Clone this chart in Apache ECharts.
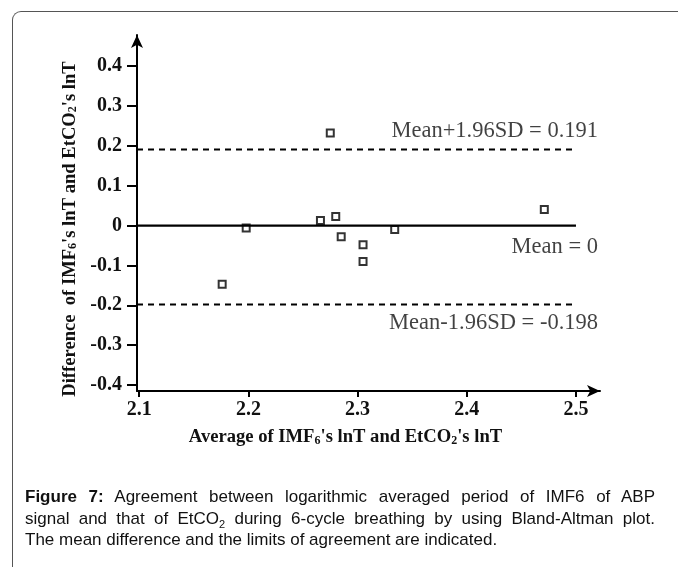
<!DOCTYPE html>
<html>
<head>
<meta charset="utf-8">
<script src="https://cdn.jsdelivr.net/npm/echarts@6/dist/echarts.min.js"></script>
<style>
  html, body { margin: 0; padding: 0; background: #fff; }
  #wrap { position: relative; width: 678px; height: 567px; overflow: hidden; }
  #frame { position: absolute; left: 12px; top: 11px; width: 720px; height: 620px;
           border-left: 1.5px solid #555; border-top: 1.5px solid #555; border-top-left-radius: 9px; }
  #chart { position: absolute; left: 0; top: 0; width: 678px; height: 567px; }
  #caption { position: absolute; left: 25px; top: 486px; width: 630px;
             font-family: "Liberation Sans", Arial, sans-serif; font-size: 17px; line-height: 21.5px; color: #111; }
  #caption .j { text-align: justify; text-align-last: justify; }
  #caption sub { font-size: 11px; line-height: 0; }
</style>
</head>
<body>
<div id="wrap">
  <div id="frame"></div>
  <div id="chart"></div>
  <div id="caption">
    <div class="j"><b>Figure 7:</b> Agreement between logarithmic averaged period of IMF6 of ABP</div>
    <div class="j">signal and that of EtCO<sub>2</sub> during 6-cycle breathing by using Bland-Altman plot.</div>
    <div>The mean difference and the limits of agreement are indicated.</div>
  </div>
</div>
<script>
// ---- data ----
const xTicks = [2.1, 2.2, 2.3, 2.4, 2.5];
const yTicks = [-0.4, -0.3, -0.2, -0.1, 0, 0.1, 0.2, 0.3, 0.4];
const avgVals  = [2.176, 2.198, 2.266, 2.275, 2.280, 2.285, 2.305, 2.305, 2.334, 2.471];
const diffVals = [-0.147, -0.006, 0.013, 0.232, 0.023, -0.028, -0.048, -0.090, -0.010, 0.040];
const meanDiff = 0;
const upperLoA = 0.191;
const lowerLoA = -0.198;
const lineLabels = ['Mean+1.96SD = 0.191', 'Mean = 0', 'Mean-1.96SD = -0.198'];

const xMin = 2.098, xMax = 2.522, yMin = -0.415, yMax = 0.478;
const lineEnd = 2.5;

const chart = echarts.init(document.getElementById('chart'), null, { renderer: 'canvas' });

const serif = '"Liberation Serif", "Times New Roman", serif';
const fmt = v => String(+(+v).toFixed(1));

const option = {
  animation: false,
  backgroundColor: 'transparent',
  grid: { left: 137, right: 78, top: 35, bottom: 176, containLabel: false, outerBoundsMode: 'none' },
  xAxis: {
    type: 'value', min: xMin, max: xMax,
    splitLine: { show: false },
    axisLine: { onZero: false, lineStyle: { color: '#000', width: 2 }, symbol: ['none', 'arrow'], symbolSize: [9, 13] },
    axisTick: { show: true, length: 6, lineStyle: { color: '#000', width: 2 }, customValues: xTicks },
    axisLabel: { customValues: xTicks, formatter: fmt, margin: 9, color: '#111',
                 fontFamily: serif, fontWeight: 'bold', fontSize: 20 },
    name: '{a|Average of IMF}{s|6}{a|\'s lnT and EtCO}{s|2}{a|\'s lnT}',
    nameLocation: 'middle', nameGap: 37,
    nameTextStyle: {
      padding: [0, 46, 0, 0],
      rich: {
        a: { fontFamily: serif, fontWeight: 'bold', fontSize: 18.6, color: '#111' },
        s: { fontFamily: serif, fontWeight: 'bold', fontSize: 12, color: '#111', padding: [6, 0, 0, 0] }
      }
    }
  },
  yAxis: {
    type: 'value', min: yMin, max: yMax,
    splitLine: { show: false },
    axisLine: { onZero: false, lineStyle: { color: '#000', width: 2 }, symbol: ['none', 'arrow'], symbolSize: [9, 13] },
    axisTick: { show: true, length: 10, lineStyle: { color: '#000', width: 2 }, customValues: yTicks },
    axisLabel: { customValues: yTicks, formatter: fmt, margin: 15, color: '#111',
                 fontFamily: serif, fontWeight: 'bold', fontSize: 20 },
    name: '{a|Difference  of IMF}{s|6}{a|\'s lnT and EtCO}{s|2}{a|\'s lnT}',
    nameLocation: 'middle', nameGap: 56, nameRotate: 90,
    nameTextStyle: {
      padding: [0, 32, 0, 0],
      rich: {
        a: { fontFamily: serif, fontWeight: 'bold', fontSize: 18.6, color: '#111' },
        s: { fontFamily: serif, fontWeight: 'bold', fontSize: 12, color: '#111', padding: [6, 0, 0, 0] }
      }
    }
  },
  series: [
    {
      type: 'line', symbol: 'none', silent: true,
      data: [[xMin, meanDiff], [lineEnd, meanDiff]],
      lineStyle: { color: '#000', width: 2.2 }
    },
    {
      type: 'line', symbol: 'none', silent: true,
      data: [[xMin, upperLoA], [lineEnd, upperLoA]],
      lineStyle: { color: '#000', width: 2, type: [6, 5] }
    },
    {
      type: 'line', symbol: 'none', silent: true,
      data: [[xMin, lowerLoA], [lineEnd, lowerLoA]],
      lineStyle: { color: '#000', width: 2, type: [6, 5] }
    },
    {
      type: 'scatter',
      data: avgVals.map((x, i) => [x, diffVals[i]]),
      symbol: 'rect', symbolSize: 7,
      itemStyle: { color: '#fff', borderColor: '#000', borderWidth: 2 }
    },
    {
      type: 'scatter', silent: true, symbolSize: 0,
      data: [
        { value: [2.5202, 0.2375], label: { formatter: lineLabels[0] } },
        { value: [2.5202, -0.053], label: { formatter: lineLabels[1] } },
        { value: [2.5202, -0.244], label: { formatter: lineLabels[2] } }
      ],
      label: { show: true, position: [0, 0], align: 'right', verticalAlign: 'middle',
               fontFamily: serif, fontSize: 22.5, color: '#111' }
    }
  ]
};
chart.setOption(option);
</script>
</body>
</html>
